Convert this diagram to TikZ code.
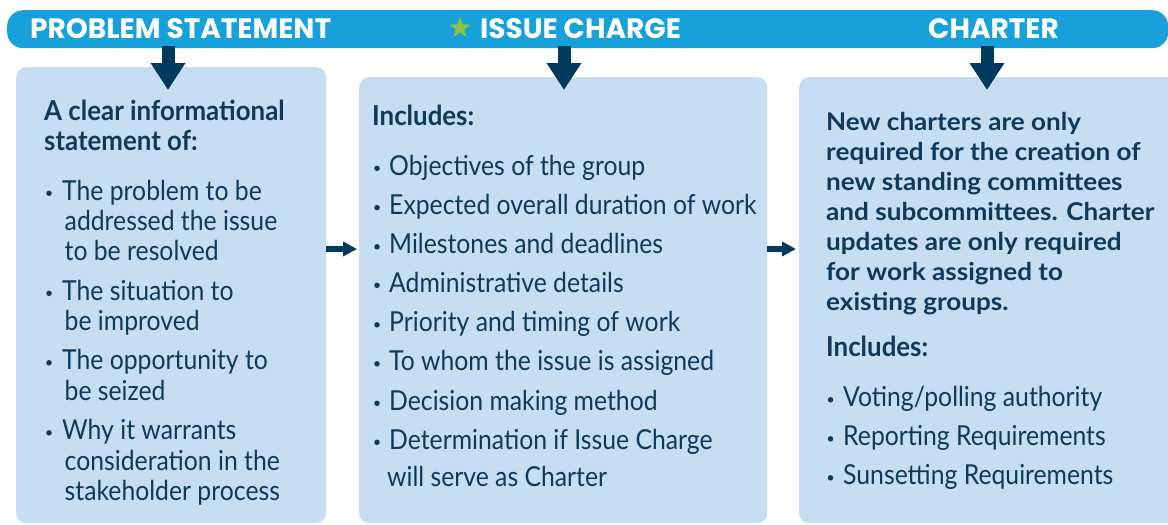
\documentclass[tikz,border=0pt]{standalone}
\usepackage{fontspec}
\setmainfont{Lato}
\newfontfamily\condfont{Lato}[FakeStretch=0.90]
\newfontfamily\condbfont{Lato}[FakeStretch=0.94]
\newfontfamily\parafont{Lato}[FakeStretch=1.065]
\newfontfamily\hdrfont{Poppins}
\usetikzlibrary{arrows.meta,shapes.geometric}
\definecolor{barblue}{HTML}{17A1DA}
\definecolor{boxblue}{HTML}{C6DDF2}
\definecolor{navy}{HTML}{0D3A5C}
\definecolor{arrnavy}{HTML}{003A5E}
\definecolor{stargreen}{HTML}{8CC43F}
\begin{document}
\begin{tikzpicture}[x=1pt,y=-1pt,
  panel/.style={fill=boxblue, draw=none, rounded corners=10pt, anchor=north west, inner sep=0pt},
  barbox/.style={fill=barblue, draw=none, rounded corners=16pt, anchor=north west, inner sep=0pt},
  body/.style={anchor=base west, inner sep=0pt, text=navy, font=\condfont\fontsize{27.5}{30}\selectfont},
  headtxt/.style={anchor=base west, inner sep=0pt, text=navy, font=\condbfont\bfseries\fontsize{27.5}{30}\selectfont},
  paratxt/.style={anchor=base west, inner sep=0pt, text=navy, font=\parafont\bfseries\fontsize{24.5}{30}\selectfont},
  hdr/.style={anchor=base west, inner sep=0pt, text=white, font=\hdrfont\bfseries\fontsize{28}{30}\selectfont},
  dot/.style={circle, fill=navy, draw=none, inner sep=0pt, minimum size=5.5pt},
  darrow/.style={draw=arrnavy, line width=13pt, -{Triangle[width=33pt,length=27pt]}},
  harrow/.style={draw=arrnavy, line width=5.5pt, -{Triangle[width=14pt,length=14pt]}}
]
\useasboundingbox (0,0) rectangle (1168,525);
\clip (0,0) rectangle (1168,525);

% panels
\node[panel, minimum width=310pt, minimum height=456pt] (boxL) at (16,67) {};
\node[panel, minimum width=408pt, minimum height=446pt] (boxM) at (359,77) {};
\node[panel, minimum width=420pt, minimum height=446pt] (boxR) at (799,77) {};

% header bar
\node[barbox, minimum width=1161pt, minimum height=38pt] (bar) at (7,10) {};

% down arrows
\coordinate (tL) at (168,90);
\coordinate (tM) at (564,90);
\coordinate (tR) at (987,90);
\draw[darrow, shorten <=-2pt] (bar.south -| tL) -- (tL);
\draw[darrow, shorten <=-2pt] (bar.south -| tM) -- (tM);
\draw[darrow, shorten <=-2pt] (bar.south -| tR) -- (tR);

% horizontal arrows
\coordinate (ay) at (0,249);
\draw[harrow, shorten >=2pt] (boxL.east |- ay) -- (boxM.west |- ay);
\draw[harrow, shorten >=3pt] (boxM.east |- ay) -- (boxR.west |- ay);

% header texts
\node[hdr] (hPS) at (30,38.3) {PROBLEM STATEMENT};
\node[star, star points=5, star point ratio=2.4, fill=stargreen, draw=none, minimum size=22pt, inner sep=0pt] (star) at (460,28) {};
\node[hdr] (hIC) at (480,38.3) {ISSUE CHARGE};
\node[hdr] (hCH) at (928,38.3) {CHARTER};

% left panel
\node[headtxt] (L0) at (44,120.7) {A clear informational};
\node[headtxt] (L00) at (44,150.5) {statement of:};
\node[dot] (dL1) at (49,193.3) {};
\node[body] (L1) at (62,200) {The problem to be};
\node[body] (L1b) at (64.5,230.5) {addressed the issue};
\node[body] (L1c) at (64.5,260.7) {to be resolved};
\node[dot] (dL2) at (49,293.3) {};
\node[body] (L2) at (62,300) {The situation to};
\node[body] (L2b) at (64.5,330.7) {be improved};
\node[dot] (dL3) at (49,362.8) {};
\node[body] (L3) at (62,369.5) {The opportunity to};
\node[body] (L3b) at (64.5,400.5) {be seized};
\node[dot] (dL4) at (49,432.8) {};
\node[body] (L4) at (62,439.5) {Why it warrants};
\node[body] (L4b) at (64.5,470.5) {consideration in the};
\node[body] (L4c) at (64.5,500.7) {stakeholder process};

% middle panel
\node[headtxt] (M0) at (372,125) {Includes:};
\node[dot] (dM1) at (377,168.3) {};
\node[body] (M1) at (389,175) {Objectives of the group};
\node[dot] (dM2) at (377,207.6) {};
\node[body] (M2) at (389,214.3) {Expected overall duration of work};
\node[dot] (dM3) at (377,246.8) {};
\node[body] (M3) at (389,253.5) {Milestones and deadlines};
\node[dot] (dM4) at (377,285.3) {};
\node[body] (M4) at (389,292) {Administrative details};
\node[dot] (dM5) at (377,324.8) {};
\node[body] (M5) at (389,331.5) {Priority and timing of work};
\node[dot] (dM6) at (377,363.8) {};
\node[body] (M6) at (389,370.5) {To whom the issue is assigned};
\node[dot] (dM7) at (377,403.3) {};
\node[body] (M7) at (389,410) {Decision making method};
\node[dot] (dM8) at (377,442.3) {};
\node[body] (M8) at (389,449) {Determination if Issue Charge};
\node[body] (M8b) at (387,486) {will serve as Charter};

% right panel
\node[paratxt] (R1) at (826,130) {New charters are only};
\node[paratxt] (R2) at (826,160) {required for the creation of};
\node[paratxt] (R3) at (826,190) {new standing committees};
\node[paratxt] (R4) at (826,220) {and subcommittees. Charter};
\node[paratxt] (R5) at (826,250) {updates are only required};
\node[paratxt] (R6) at (826,280) {for work assigned to};
\node[paratxt] (R7) at (826,310) {existing groups.};
\node[headtxt] (R0) at (826,356.7) {Includes:};
\node[dot] (dR1) at (830.5,399.8) {};
\node[body] (Ri1) at (843,406.5) {Voting/polling authority};
\node[dot] (dR2) at (830.5,438.8) {};
\node[body] (Ri2) at (843,445.5) {Reporting Requirements};
\node[dot] (dR3) at (830.5,477.8) {};
\node[body] (Ri3) at (843,484.5) {Sunsetting Requirements};
\end{tikzpicture}
\end{document}
